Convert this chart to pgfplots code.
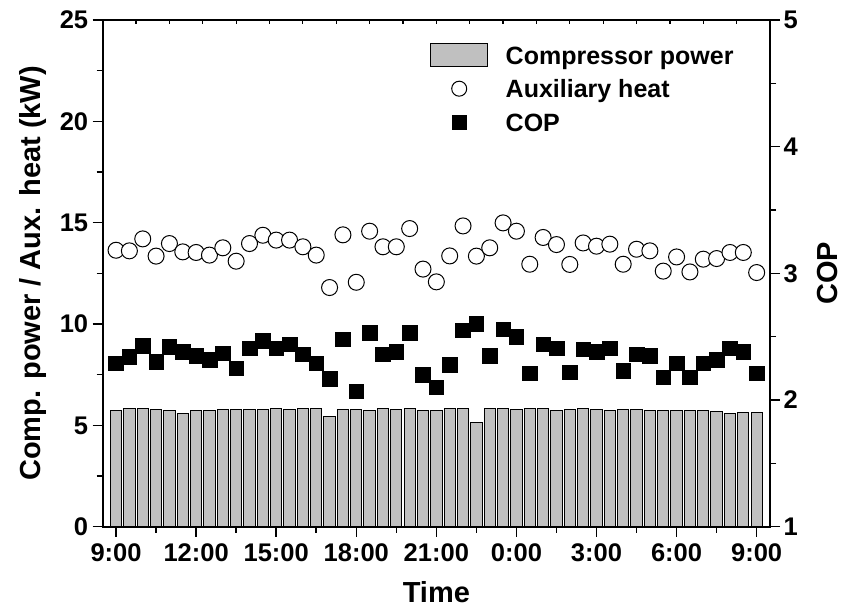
\documentclass[border=0pt]{standalone}
\usepackage{pgfplots}
\pgfplotsset{compat=1.18}
\usepackage{fontspec}
\setmainfont{Liberation Sans}
\definecolor{barfill}{RGB}{192,192,192}
\newcommand{\tickfont}{\fontsize{25.5bp}{29bp}\selectfont\bfseries}
\newcommand{\labelfont}{\fontsize{29bp}{33bp}\selectfont\bfseries}
\newcommand{\legfont}{\fontsize{25bp}{30bp}\selectfont\bfseries}

\pgfplotstableread{
x y
9 5.75
9.5 5.82
10 5.82
10.5 5.79
11 5.75
11.5 5.59
12 5.75
12.5 5.75
13 5.79
13.5 5.79
14 5.79
14.5 5.79
15 5.85
15.5 5.79
16 5.82
16.5 5.82
17 5.42
17.5 5.79
18 5.79
18.5 5.72
19 5.82
19.5 5.79
20 5.82
20.5 5.75
21 5.75
21.5 5.85
22 5.82
22.5 5.16
23 5.82
23.5 5.82
24 5.79
24.5 5.82
25 5.82
25.5 5.75
26 5.79
26.5 5.82
27 5.79
27.5 5.75
28 5.79
28.5 5.79
29 5.75
29.5 5.75
30 5.75
30.5 5.72
31 5.72
31.5 5.69
32 5.59
32.5 5.62
33 5.65
}\comptable

\pgfplotstableread{
x y
9 13.64
9.5 13.61
10 14.20
10.5 13.35
11 13.97
11.5 13.56
12 13.53
12.5 13.40
13 13.76
13.5 13.10
14 13.97
14.5 14.38
15 14.14
15.5 14.14
16 13.81
16.5 13.40
17 11.80
17.5 14.40
18 12.06
18.5 14.58
19 13.81
19.5 13.81
20 14.71
20.5 12.71
21 12.08
21.5 13.36
22 14.84
22.5 13.35
23 13.76
23.5 14.99
24 14.58
24.5 12.95
25 14.27
25.5 13.92
26 12.94
26.5 14.00
27 13.84
27.5 13.94
28 12.95
28.5 13.69
29 13.61
29.5 12.61
30 13.31
30.5 12.57
31 13.20
31.5 13.23
32 13.53
32.5 13.53
33 12.54
}\auxtable

\pgfplotstableread{
x y
9 2.29
9.5 2.34
10 2.43
10.5 2.30
11 2.42
11.5 2.38
12 2.35
12.5 2.32
13 2.37
13.5 2.25
14 2.41
14.5 2.47
15 2.41
15.5 2.44
16 2.36
16.5 2.29
17 2.17
17.5 2.48
18 2.07
18.5 2.53
19 2.36
19.5 2.38
20 2.53
20.5 2.20
21 2.10
21.5 2.28
22 2.55
22.5 2.60
23 2.35
23.5 2.56
24 2.50
24.5 2.21
25 2.44
25.5 2.41
26 2.22
26.5 2.40
27 2.38
27.5 2.41
28 2.23
28.5 2.36
29 2.35
29.5 2.18
30 2.29
30.5 2.18
31 2.29
31.5 2.32
32 2.41
32.5 2.38
33 2.21
}\coptable

\begin{document}
\begin{tikzpicture}
\useasboundingbox (-102.7bp,-84.3bp) rectangle (748.3bp,526.7bp);
\pgfplotsset{
  common/.style={
    scale only axis, width=667.3bp, height=506.7bp,
    at={(0,0)}, anchor=south west,
    xmin=8.5, xmax=33.5,
    tick align=outside,
    major tick length=10bp, minor tick length=6bp,
    every tick/.style={black, line width=1.5bp},
    axis line style={line width=2bp},
    /pgf/number format/assume math mode=true,
    tick label style={font=\tickfont},
    label style={font=\labelfont},
  }
}
\begin{axis}[common,
  ymin=0, ymax=25, ytick={0,5,...,25}, minor y tick num=1,
  xtick={9,12,...,33},
  xticklabels={9:00,12:00,15:00,18:00,21:00,0:00,3:00,6:00,9:00},
  minor x tick num=1,
  xtick pos=left, ytick pos=left,
  xticklabel style={yshift=-3bp},
  yticklabel style={xshift=-1bp},
  xlabel={Time}, ylabel={Comp. power / Aux. heat (kW)},
  xlabel style={at={(axis description cs:0.5,-0.13)}, anchor=center},
  ylabel style={at={(axis description cs:-0.1044,0.5)}, anchor=center},
]
\addplot[ybar, bar width=11.3bp, bar shift=0pt, fill=barfill, draw=black, line width=1bp] table[x=x,y=y] {\comptable};
\addplot[only marks, mark=*, mark size=8bp, mark options={fill=white, draw=black, line width=1bp}] table[x=x,y=y] {\auxtable};
\end{axis}

\begin{axis}[common,
  ymin=1, ymax=5, ytick={1,2,...,5}, minor y tick num=1,
  axis y line*=right, axis x line=none,
  ylabel={COP},
  ylabel style={at={(axis description cs:1.086,0.5)}, anchor=center},
  legend style={at={(axis description cs:0.4905,0.9546)}, anchor=north west,
    draw=none, fill=none, inner sep=0pt, row sep=9.5bp, font=\legfont,
    nodes={inner sep=0pt, text height=18bp, text depth=0bp}},
  legend cell align=left,
]
\addlegendimage{legend image code/.code={
  \path[draw=none, fill=none] (0bp,-12bp) rectangle (75bp,12bp);
  \draw[fill=barfill, draw=black, line width=1bp] (0bp,-11.5bp) rectangle (57bp,11.5bp);}}
\addlegendentry{Compressor power}
\addlegendimage{legend image code/.code={
  \path[draw=none, fill=none] (0bp,-12bp) rectangle (75bp,12bp);
  \draw[fill=white, draw=black, line width=1bp] (28.5bp,0bp) circle (7.5bp);}}
\addlegendentry{Auxiliary heat}
\addplot[only marks, mark=square*, mark size=7.3bp, mark options={fill=black, draw=black, line width=0.5bp},
  legend image code/.code={
  \path[draw=none, fill=none] (0bp,-12bp) rectangle (75bp,12bp);
  \fill[black] (21.5bp,-7bp) rectangle (35.5bp,7bp);}] table[x=x,y=y] {\coptable};
\addlegendentry{COP}
\end{axis}

\begin{axis}[scale only axis, width=667.3bp, height=506.7bp,
  at={(0,0)}, anchor=south west,
  xmin=0, xmax=20, ymin=0, ymax=1,
  axis x line*=top, axis y line=none,
  xtick={1,2,...,19}, xticklabels={},
  tick align=inside, major tick length=4bp,
  every tick/.style={black, line width=1.2bp},
  axis line style={line width=2bp},
]
\end{axis}
\end{tikzpicture}
\end{document}
